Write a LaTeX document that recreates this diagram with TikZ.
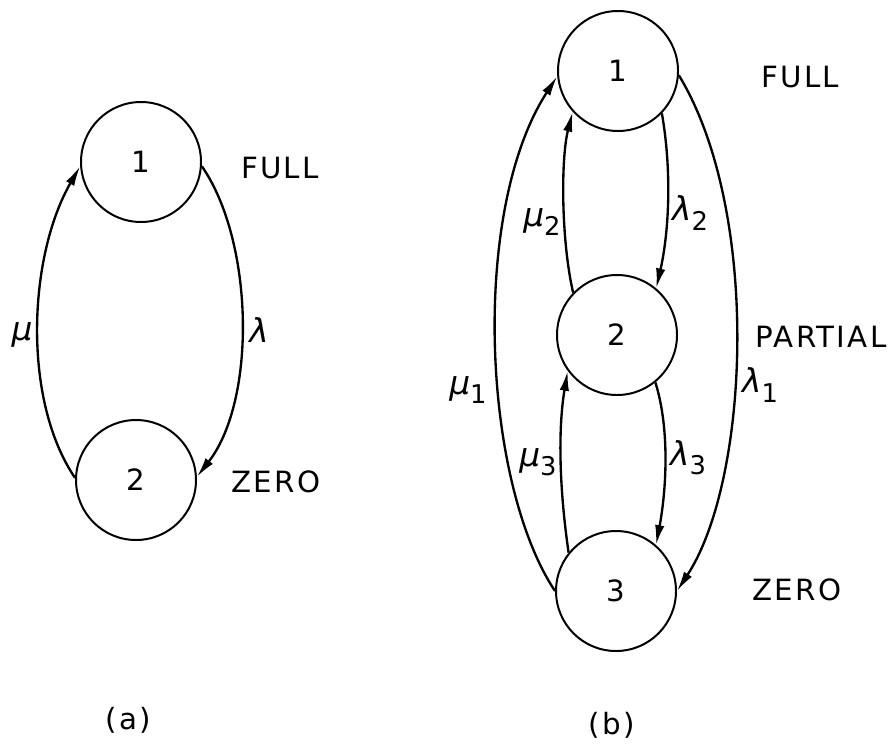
\documentclass[tikz,border=0pt]{standalone}
\usepackage{fontspec}
\setmainfont[LetterSpace=8]{DejaVu Sans}
\newfontfamily\greekfont{DejaVu Sans Oblique}
\usetikzlibrary{arrows.meta}
\newcommand{\lowsub}[1]{\raisebox{-8pt}{\fontsize{22}{24}\selectfont #1}}
\newcommand{\gmu}{{\greekfont μ}}
\newcommand{\glam}{{\greekfont λ}}
\begin{document}
\begin{tikzpicture}[x=0.3mm,y=-0.3mm,
  state/.style={circle,draw,line width=1.7pt,minimum size=36mm,inner sep=0pt,
    font=\fontsize{25}{28}\selectfont},
  caption/.style={font=\fontsize{25}{28}\selectfont,inner sep=0pt},
  rate/.style={font=\fontsize{28}{32}\selectfont,inner sep=0pt},
  flow/.style={line width=2pt,-{Latex[length=17pt,width=8pt]}}]
\useasboundingbox (0,0) rectangle (888,744);
% (a)
\node[state] (a1) at (141,162) {1};
\node[state] (a2) at (136,480) {2};
\node[caption] (afull) at (280,168) {FULL};
\node[caption] (azero) at (276,482) {ZERO};
\draw[flow] (a2.178) .. controls +(-53,-78) and +(-52,90) .. (a1.184);
\draw[flow] (a1.356) .. controls +(52,75) and +(60,-77) .. (a2.3);
\node[rate] (amu) at (22,335) {\gmu};
\node[rate] (alam) at (259,330) {\glam};
\node[caption] (alab) at (128,720) {(a)};
% (b)
\node[state] (b1) at (618,71) {1};
\node[state] (b2) at (617,335) {2};
\node[state] (b3) at (616,591) {3};
\node[caption] (bfull) at (800,77) {FULL};
\node[caption] (bpart) at (821,337) {PARTIAL};
\node[caption] (bzero) at (797,590) {ZERO};
\draw[flow] (b3.180) .. controls +(-73,-110) and +(-87,134) .. (b1.185);
\draw[flow] (b1.356) .. controls +(82,135) and +(73,-112) .. (b3.0);
\draw[flow] (b2.136) .. controls +(-12,-52) and +(-12,47) .. (b1.222);
\draw[flow] (b1.316) .. controls +(10,57) and +(13,-57) .. (b2.50);
\draw[flow] (b3.141) .. controls +(-9,-62) and +(-10,60) .. (b2.216);
\draw[flow] (b2.309) .. controls +(15,48) and +(10,-53) .. (b3.49);
\node[rate] (bmu2) at (542,222) {\gmu\lowsub{2}};
\node[rate] (blam2) at (690,213) {\glam\lowsub{2}};
\node[rate] (bmu1) at (468,390) {\gmu\lowsub{1}};
\node[rate] (blam1) at (760,385) {\glam\lowsub{1}};
\node[rate] (bmu3) at (538,462) {\gmu\lowsub{3}};
\node[rate] (blam3) at (688,458) {\glam\lowsub{3}};
\node[caption] (blab) at (612,725) {(b)};
\end{tikzpicture}
\end{document}
